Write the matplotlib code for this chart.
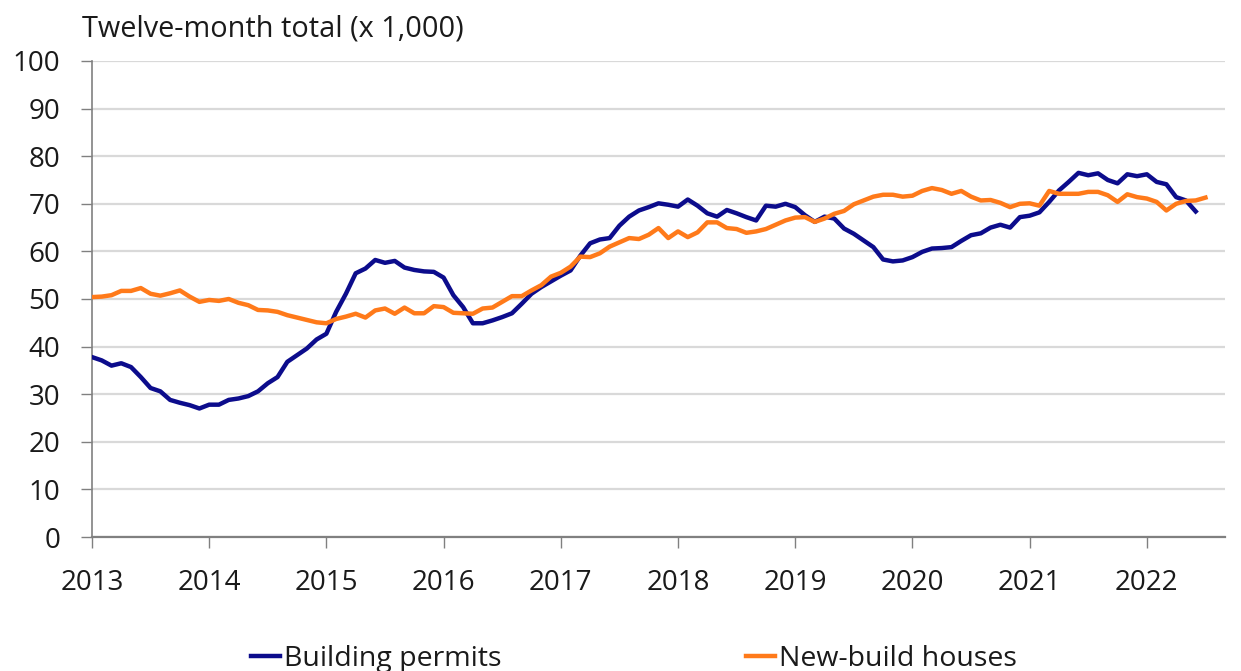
import numpy as np
import matplotlib
matplotlib.use("Agg")
import matplotlib.pyplot as plt

plt.rcParams['font.family'] = ['Open Sans', 'DejaVu Sans']

# monthly values from Jan 2013, twelve-month totals (x 1,000)
permits = [
    37.8, 37.1, 36.0, 36.5, 35.7, 33.6, 31.3, 30.6, 28.8, 28.2, 27.7, 27.0,
    27.8, 27.8, 28.8, 29.1, 29.6, 30.6, 32.3, 33.6, 36.8, 38.2, 39.6, 41.5,
    42.7, 47.3, 51.1, 55.4, 56.4, 58.2, 57.6, 58.0, 56.6, 56.1, 55.8, 55.7,
    54.5, 50.8, 48.3, 44.9, 44.9, 45.5, 46.2, 47.0, 49.0, 51.1, 52.5, 53.7,
    54.9, 56.0, 59.1, 61.7, 62.5, 62.8, 65.4, 67.3, 68.6, 69.3, 70.1, 69.8,
    69.4, 70.9, 69.6, 68.0, 67.3, 68.7, 68.0, 67.2, 66.5, 69.6, 69.4, 70.0,
    69.3, 67.6, 66.2, 67.3, 66.9, 64.8, 63.7, 62.3, 60.9, 58.3, 57.9, 58.1,
    58.8, 59.9, 60.6, 60.7, 60.9, 62.2, 63.4, 63.8, 65.0, 65.6, 65.0, 67.2,
    67.5, 68.2, 70.4, 72.8, 74.6, 76.5, 76.0, 76.4, 75.0, 74.3, 76.2, 75.8,
    76.2, 74.6, 74.1, 71.4, 70.7, 68.4,
]
newbuild = [
    50.4, 50.5, 50.8, 51.7, 51.7, 52.3, 51.1, 50.7, 51.2, 51.8, 50.5, 49.4,
    49.8, 49.6, 50.0, 49.2, 48.7, 47.7, 47.6, 47.3, 46.6, 46.1, 45.6, 45.1,
    44.9, 45.8, 46.3, 46.9, 46.1, 47.6, 48.0, 46.9, 48.2, 47.0, 47.0, 48.5,
    48.3, 47.1, 47.0, 46.9, 48.0, 48.2, 49.4, 50.6, 50.6, 51.8, 52.9, 54.7,
    55.5, 56.8, 58.9, 58.8, 59.6, 61.0, 61.9, 62.8, 62.6, 63.5, 64.9, 62.8,
    64.2, 63.0, 64.0, 66.1, 66.1, 64.9, 64.7, 63.9, 64.2, 64.7, 65.6, 66.5,
    67.1, 67.2, 66.2, 66.9, 67.9, 68.5, 69.9, 70.7, 71.5, 71.9, 71.9, 71.5,
    71.7, 72.7, 73.3, 72.9, 72.1, 72.7, 71.5, 70.7, 70.8, 70.2, 69.3, 70.0,
    70.1, 69.6, 72.7, 72.1, 72.1, 72.1, 72.5, 72.5, 71.8, 70.4, 72.0, 71.4,
    71.1, 70.4, 68.6, 70.0, 70.6, 70.7, 71.3,
]
years = list(range(2013, 2023))

t_perm = 2013 + np.arange(len(permits)) / 12
t_new = 2013 + np.arange(len(newbuild)) / 12

fig = plt.figure(figsize=(12.41, 6.71), dpi=100)
ax = fig.add_axes([0.0741, 0.1997, 0.9130, 0.7094])

ax.plot(t_perm, permits, color='#0c0c8c', lw=3.2, label='Building permits',
        solid_joinstyle='round', zorder=3)
ax.plot(t_new, newbuild, color='#ff7a1a', lw=3.2, label='New-build houses',
        solid_joinstyle='round', zorder=4)

ax.set_xlim(2013, 2013 + 116 / 12)
ax.set_ylim(0, 100)
ax.set_yticks(range(0, 101, 10))
ax.set_xticks(years)
ax.set_xticklabels([str(y) for y in years])
ax.grid(axis='y', color='#d9d9d9', lw=1.6, zorder=0)
ax.set_axisbelow(True)

for s in ['top', 'right']:
    ax.spines[s].set_visible(False)
ax.spines['left'].set_color('#808080')
ax.spines['bottom'].set_color('#808080')
ax.spines['left'].set_linewidth(1.2)
ax.spines['bottom'].set_linewidth(1.6)
ax.tick_params(axis='y', length=8, width=1, color='#808080', labelsize=20,
               pad=15, labelcolor='#1a1a1a')
ax.tick_params(axis='x', length=8, width=1, color='#808080', labelsize=20,
               pad=15, labelcolor='#1a1a1a')

fig.text(82 / 1241, 1 - 29 / 671, 'Twelve-month total (x 1,000)', fontsize=20.8,
         color='#1a1a1a', va='center', ha='left')

fig.legend(loc='center', bbox_to_anchor=(0.511, 0.018), ncol=2, frameon=False,
           fontsize=20.5, handlelength=1.0, handletextpad=0.15,
           columnspacing=8.6, labelcolor='#1a1a1a')

fig.savefig('out.png', dpi=100)
